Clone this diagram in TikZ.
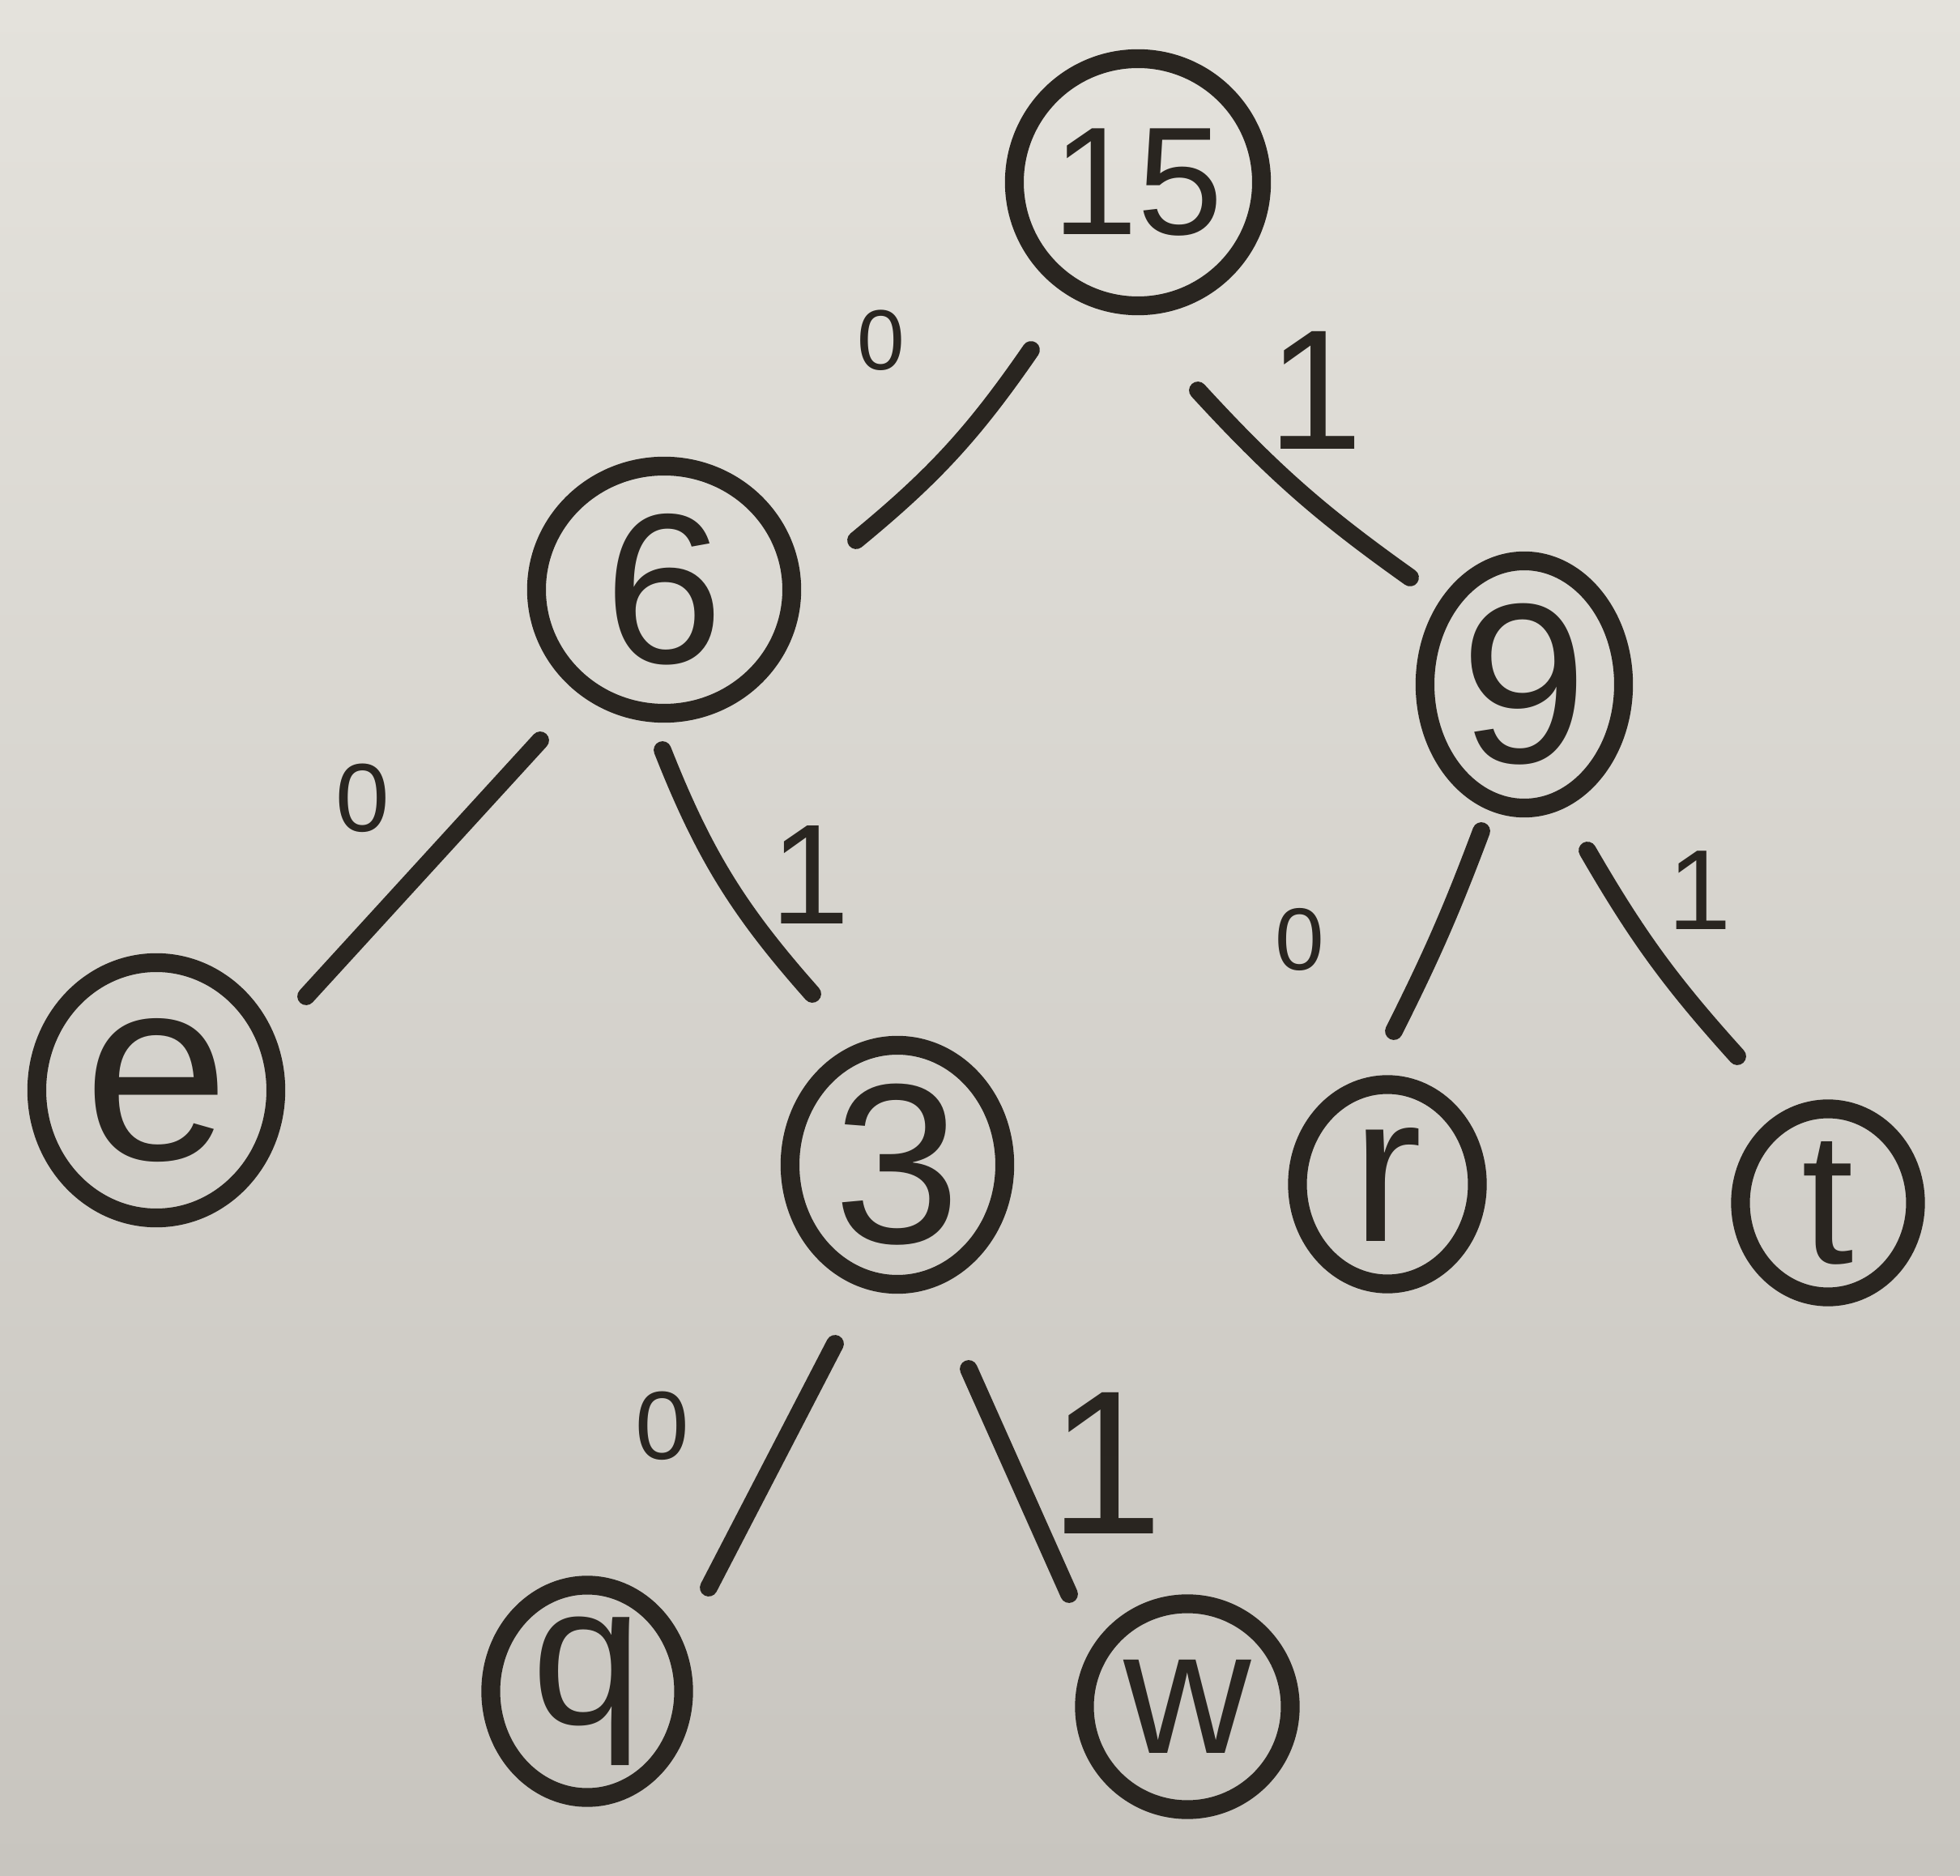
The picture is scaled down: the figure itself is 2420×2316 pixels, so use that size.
\documentclass[tikz,border=0pt]{standalone}
\usepackage{fontspec}
\setmainfont{Liberation Sans}
\usetikzlibrary{shapes.geometric,calc}
\definecolor{ink}{RGB}{41,37,32}
\definecolor{papertop}{RGB}{228,226,220}
\definecolor{paperbot}{RGB}{200,197,191}
\newcommand\myfs[1]{\fontsize{#1}{#1}\selectfont}
\begin{document}
\begin{tikzpicture}[x=0.01cm,y=-0.01cm,
  hnode/.style={ellipse, draw=ink, line width=6.6pt, inner sep=0pt, outer sep=0pt},
  txt/.style={text=ink, inner sep=0pt},
  edge/.style={draw=ink, line width=6.2pt, line cap=round},
  bit/.style={text=ink, inner sep=0pt}]
\shade[top color=papertop, bottom color=paperbot] (0,0) rectangle (2420,2316);
\useasboundingbox (0,0) rectangle (2420,2316);

% tree nodes
\node[hnode, minimum width=3.05cm, minimum height=3.05cm, label={[txt,font=\myfs{54}]center:15}] (n15) at (1405,225) {};
\node[hnode, minimum width=3.15cm, minimum height=3.05cm, label={[txt,font=\myfs{75}]center:6}] (n6) at (820,728) {};
\node[hnode, minimum width=2.45cm, minimum height=3.05cm, label={[txt,font=\myfs{80}]center:9}] (n9) at (1882,845) {};
\node[hnode, minimum width=2.95cm, minimum height=3.15cm, label={[txt,font=\myfs{92}]center:e}] (ne) at (193,1346) {};
\node[hnode, minimum width=2.65cm, minimum height=2.95cm, label={[txt,font=\myfs{80}]center:3}] (n3) at (1108,1438) {};
\node[hnode, minimum width=2.22cm, minimum height=2.46cm, label={[txt,font=\myfs{74}]center:r}] (nr) at (1713,1462) {};
\node[hnode, minimum width=2.16cm, minimum height=2.32cm, label={[txt,font=\myfs{66}]center:t}] (nt) at (2257,1485) {};
\node[hnode, minimum width=2.38cm, minimum height=2.62cm, label={[txt,font=\myfs{70}]center:q}] (nq) at (725,2088) {};
\node[hnode, minimum width=2.54cm, minimum height=2.54cm, label={[txt,font=\myfs{62}]center:w}] (nw) at (1466,2107) {};

% connectors
\draw[edge] ([shift={(-132,207)}]n15.center) to[bend left=8] ([shift={(237,-61)}]n6.center);
\draw[edge] ([shift={(74,257)}]n15.center) to[bend right=6] ([shift={(-141,-132)}]n9.center);
\draw[edge] ([shift={(-153,186)}]n6.center) -- ([shift={(185,-116)}]ne.center);
\draw[edge] ([shift={(-2,198)}]n6.center) to[bend right=10] ([shift={(-105,-211)}]n3.center);
\draw[edge] ([shift={(-53,181)}]n9.center) to[bend left=3] ([shift={(8,-189)}]nr.center);
\draw[edge] ([shift={(78,205)}]n9.center) to[bend right=6] ([shift={(-112,-181)}]nt.center);
\draw[edge] ([shift={(-77,221)}]n3.center) -- ([shift={(150,-128)}]nq.center);
\draw[edge] ([shift={(88,252)}]n3.center) -- ([shift={(-146,-139)}]nw.center);

% bit labels
\node[bit, font=\myfs{30}] (b1) at (1088,420) {0};
\node[bit, font=\myfs{60}] (b2) at (1624,482) {1};
\node[bit, font=\myfs{34}] (b3) at (448,985) {0};
\node[bit, font=\myfs{50}] (b4) at (1000,1080) {1};
\node[bit, font=\myfs{31}] (b5) at (1605,1160) {0};
\node[bit, font=\myfs{40}] (b6) at (2099,1099) {1};
\node[bit, font=\myfs{34}] (b7) at (818,1760) {0};
\node[bit, font=\myfs{72}] (b8) at (1366,1806) {1};
\end{tikzpicture}
\end{document}
